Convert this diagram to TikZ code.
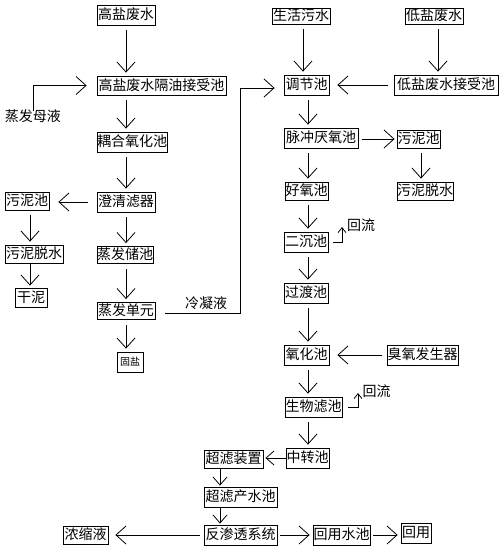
\documentclass[tikz,border=0pt]{standalone}
\usepackage{fontspec}
\setmainfont{Noto Sans CJK SC}
\usetikzlibrary{arrows.meta}
\begin{document}
\begin{tikzpicture}[x=1pt,y=-1pt,line width=0.8pt,
  box/.style 2 args={draw,inner sep=0pt,minimum width=#1pt,minimum height=#2pt,
     font=\fontsize{14}{14}\selectfont,text height=11.5pt,text depth=2pt},
  lbl/.style={inner sep=0pt,font=\fontsize{14}{14}\selectfont},
  arr/.style={-{Straight Barb[length=10pt,width=18pt,line width=0.8pt]}},
  arrs/.style={-{Straight Barb[length=8pt,width=14pt,line width=0.8pt]}},
  hook/.style={-{Straight Barb[length=5pt,width=8pt,line width=0.8pt]}},
  gap/.style={shorten <=5pt,shorten >=3pt}]
\useasboundingbox (0,0) rectangle (502,550);
% left column
\node[box={58}{20}] (gyfs) at (126,15) {高盐废水};
\node[box={129}{19}] (gyjs) at (161.5,85.5) {高盐废水隔油接受池};
\node[lbl] (zfmy) at (33,116) {蒸发母液};
\node[box={70}{20}] (ohyh) at (132,142) {耦合氧化池};
\node[box={58}{20}] (cqlq) at (126,202) {澄清滤器};
\node[box={44}{18}] (wnc1) at (27,201) {污泥池};
\node[box={58}{18}] (wnts1) at (34,254) {污泥脱水};
\node[box={32}{19}] (gn) at (31,297.5) {干泥};
\node[box={56}{17}] (zfcc) at (125,255) {蒸发储池};
\node[box={58}{17}] (zfdy) at (126,311) {蒸发单元};
\node[draw,inner sep=0pt,minimum width=26pt,minimum height=20pt,font=\fontsize{10}{10}\selectfont] (gy) at (130,362) {固盐};
\node[lbl] (lny) at (206,303) {冷凝液};
% right column
\node[box={58}{16}] (shws) at (301,16) {生活污水};
\node[box={58}{16}] (dyfs) at (434,16) {低盐废水};
\node[box={45}{20}] (tjc) at (306.5,85) {调节池};
\node[box={104}{20}] (dyjs) at (446,85) {低盐废水接受池};
\node[box={74}{20}] (mcyy) at (321,138) {脉冲厌氧池};
\node[box={43}{18}] (wnc2) at (418.5,139) {污泥池};
\node[box={56}{18}] (wnts2) at (425,191) {污泥脱水};
\node[box={43}{18}] (hyc) at (306.5,191) {好氧池};
\node[box={44}{20}] (ecc) at (306,242) {二沉池};
\node[lbl] (hl1) at (361,225) {回流};
\node[box={44}{20}] (gdc) at (306,293) {过渡池};
\node[box={45}{20}] (yhc) at (306.5,355) {氧化池};
\node[box={71}{20}] (cyfsq) at (422.5,355) {臭氧发生器};
\node[box={57}{20}] (swlc) at (313.5,407) {生物滤池};
\node[lbl] (hl2) at (376.5,391.5) {回流};
\node[box={43}{20}] (zzc) at (307.5,458) {中转池};
\node[box={59}{18}] (clzz) at (233.5,459) {超滤装置};
\node[box={73}{20}] (clcs) at (240.5,497) {超滤产水池};
\node[box={73}{20}] (fst) at (240.5,535) {反渗透系统};
\node[box={45}{18}] (nsy) at (85.5,535) {浓缩液};
\node[box={57}{20}] (hysc) at (341.5,535) {回用水池};
\node[box={30}{20}] (hy) at (416,533) {回用};
% column coordinates
\coordinate (lx) at (30,0);
\coordinate (sx) at (303,0);
\coordinate (dx) at (438,0);
\coordinate (rx) at (308,0);
\coordinate (wx) at (421,0);
\coordinate (ux) at (220,0);
\coordinate (c1) at (240,313);
\coordinate (c2) at (240,88);
\coordinate (h1) at (342,227);
\coordinate (h2) at (358,393);
% left connectors
\draw[arr,gap] (gyfs.south) -- (gyjs.north -| gyfs.south);
\draw[arr,shorten >=10pt] ([yshift=-2pt]zfmy.north) |- (gyjs.west);
\draw[arr,gap] (gyjs.south -| gyfs.south) -- (ohyh.north -| gyfs.south);
\draw[arr,gap] (ohyh.south -| gyfs.south) -- (cqlq.north);
\draw[arr,shorten <=9pt,shorten >=9pt] (cqlq.west) -- (wnc1.east |- cqlq.west);
\draw[arr,gap] (wnc1.south -| lx) -- (wnts1.north -| lx);
\draw[arr,shorten >=2pt] (wnts1.south -| lx) -- (gn.north -| lx);
\draw[arr,gap] (cqlq.south) -- (zfcc.north -| cqlq.south);
\draw[arr,gap] (zfcc.south -| cqlq.south) -- (zfdy.north);
\draw[arr,gap] (zfdy.south) -- (gy.north -| zfdy.south);
\draw[arr,shorten >=9pt] ([xshift=10pt]zfdy.east |- c1) -- (c1) -- (c2) -- (tjc.west |- c2);
% right connectors
\draw[arr,gap] (shws.south -| sx) -- (tjc.north -| sx);
\draw[arr,gap] (dyfs.south -| dx) -- (dyjs.north -| dx);
\draw[arr,shorten <=6pt,shorten >=8pt] (dyjs.west) -- (tjc.east);
\draw[arr,gap] (tjc.south -| rx) -- (mcyy.north -| rx);
\draw[arr,shorten <=4pt,shorten >=2pt] (mcyy.east |- wnc2.west) -- (wnc2.west);
\draw[arr,gap] (wnc2.south -| wx) -- (wnts2.north -| wx);
\draw[arr,gap] (mcyy.south -| rx) -- (hyc.north -| rx);
\draw[arr,gap] (hyc.south -| rx) -- (ecc.north -| rx);
\draw[arr,gap] (ecc.south -| rx) -- (gdc.north -| rx);
\draw[arr,gap] (gdc.south -| rx) -- (yhc.north -| rx);
\draw[arr,gap] (yhc.south -| rx) -- (swlc.north -| rx);
\draw[arr,gap] (swlc.south -| rx) -- (zzc.north -| rx);
\draw[hook] ([xshift=5pt]ecc.east) -| (h1);
\draw[hook] ([xshift=6pt]swlc.east) -| (h2);
\draw[arr,shorten <=5pt,shorten >=8pt] (cyfsq.west) -- (yhc.east);
% bottom connectors
\draw[arrs,shorten >=2pt] (zzc.west) -- (clzz.east |- zzc.west);
\draw[arrs,shorten >=1pt] (clzz.south -| ux) -- (clcs.north -| ux);
\draw[arrs,shorten >=1pt] (clcs.south -| ux) -- (fst.north -| ux);
\draw[arr,shorten <=4pt,shorten >=7pt] (fst.west) -- (nsy.east);
\draw[arr,shorten <=3pt,shorten >=3pt] (fst.east) -- (hysc.west);
\draw[arr,shorten <=3pt,shorten >=3pt] (hysc.east) -- (hy.west |- hysc.east);
\end{tikzpicture}
\end{document}
